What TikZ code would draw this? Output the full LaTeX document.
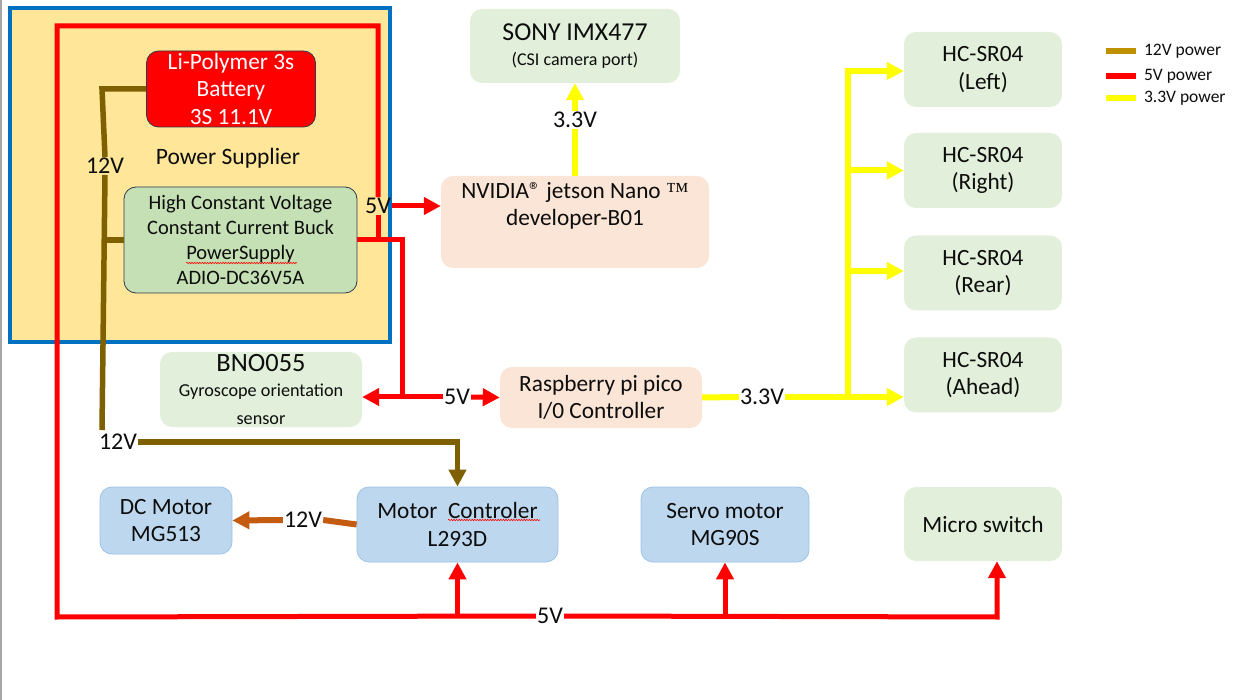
\documentclass[tikz,border=0pt]{standalone}
\usepackage{fontspec}
\setmainfont{Carlito}
\newfontfamily\tmfont{Liberation Serif}
\usetikzlibrary{arrows.meta,decorations.pathmorphing}
\definecolor{pwrfill}{HTML}{FFE699}
\definecolor{pwrline}{HTML}{0070C0}
\definecolor{v5red}{HTML}{FF0000}
\definecolor{v12brown}{HTML}{7F6000}
\definecolor{v12legend}{HTML}{BF9000}
\definecolor{v12orange}{HTML}{C55A11}
\definecolor{v33yellow}{HTML}{FFFF00}
\definecolor{greenbox}{HTML}{E2EFDA}
\definecolor{peachbox}{HTML}{FBE5D6}
\definecolor{bluebox}{HTML}{BDD7EE}
\definecolor{bluedraw}{HTML}{9DC3E6}
\definecolor{buckfill}{HTML}{C5E0B4}
\definecolor{darkdraw}{HTML}{2F3B4C}
\definecolor{txt}{HTML}{0D0D0D}
\tikzset{
  tip/.style={-{Triangle[width=17pt,length=17pt]}},
  wire5/.style={v5red, line width=5pt},
  wire12/.style={v12brown, line width=5.5pt},
  wire12m/.style={v12orange, line width=6pt},
  wire33/.style={v33yellow, line width=6pt},
  volt/.style={inner sep=1pt, font=\fontsize{24}{24}\selectfont, text=txt},
  legendtext/.style={right, inner sep=5pt, font=\fontsize{17.5}{18}\selectfont, text=txt}
}
\begin{document}
\begin{tikzpicture}[x=1pt,y=-1pt,
  box/.style={rounded corners=12pt, inner sep=0pt, align=center, text=txt, font=\fontsize{23.3}{27.5}\selectfont},
  greenblk/.style={box, fill=greenbox},
  peachblk/.style={box, fill=peachbox},
  blueblk/.style={box, fill=bluebox, draw=bluedraw, line width=0.8pt},
  sensor/.style={greenblk, minimum width=158pt, minimum height=75pt}]
\useasboundingbox (0,0) rectangle (1253,700);
\draw [gray!70, line width=2pt] (1,0) -- (1,700);
\draw [pwrline, fill=pwrfill, line width=4.5pt] (10,8) rectangle (390,342);
\node [box, fill=v5red, draw=darkdraw, line width=0.8pt, text=white, minimum width=169pt, minimum height=76pt] (batt) at (231,89) {Li-Polymer 3s\\Battery\\3S 11.1V};
\node [font=\fontsize{23.5}{24}\selectfont, text=txt] (pwrname) at (228,158) {Power Supplier};
\node [box, fill=buckfill, draw=darkdraw, line width=0.8pt, minimum width=233pt, minimum height=106pt, font=\fontsize{20.5}{24.7}\selectfont] (buck) at (240.5,240) {High Constant Voltage\\Constant Current Buck\\PowerSupply\\ADIO-DC36V5A};
\draw [v5red, line width=0.6pt, decorate, decoration={snake, amplitude=0.7pt, segment length=2.6pt}] (186,263) -- (297,263);
\node [greenblk, minimum width=210pt, minimum height=74pt] (sony) at (575,46) {\fontsize{25.8}{28}\selectfont SONY IMX477\\[-3pt]\fontsize{18}{20}\selectfont (CSI camera port)};
\node [peachblk, minimum width=268pt, minimum height=92pt] (jetson) at (575,222) {NVIDIA® jetson Nano {\tmfont\fontsize{23}{23}\selectfont ™}\\developer-B01\\\strut};
\node [greenblk, minimum width=202pt, minimum height=75pt] (bno) at (261,389.5) {\fontsize{26.4}{27}\selectfont BNO055\\[-2pt]\fontsize{18.2}{23}\selectfont Gyroscope orientation\\\fontsize{18.2}{23}\selectfont sensor};
\node [peachblk, minimum width=202pt, minimum height=61pt] (pico) at (601,397.5) {Raspberry pi pico\\I/0 Controller};
\node [blueblk, minimum width=132pt, minimum height=67pt] (dcmotor) at (166,520.5) {DC Motor\\MG513};
\node [blueblk, minimum width=201pt, minimum height=75pt] (mctl) at (457.5,524.5) {Motor\ \ Controler\\L293D};
\draw [v5red, line width=0.6pt, decorate, decoration={snake, amplitude=0.7pt, segment length=2.6pt}] (448,520) -- (540,520);
\node [blueblk, minimum width=168pt, minimum height=75pt] (servo) at (725,524.5) {Servo motor\\MG90S};
\node [greenblk, minimum width=158pt, minimum height=74pt] (micro) at (983,524) {Micro switch};
\node [sensor] (hcleft) at (983,69.5) {HC-SR04\\(Left)};
\node [sensor] (hcright) at (983,170.5) {HC-SR04\\(Right)};
\node [sensor] (hcrear) at (983,273) {HC-SR04\\(Rear)};
\node [sensor] (hcahead) at (983,375) {HC-SR04\\(Ahead)};
\node [volt] (lbl5jet) at (378,206) {5V};
\node [volt] (lbl5pico) at (457,397) {5V};
\node [volt] (lbl5bus) at (550,616) {5V};
\node [volt] (lbl12ps) at (105,166) {12V};
\node [volt] (lbl12mc) at (118,442) {12V};
\node [volt] (lbl12dc) at (303,520) {12V};
\node [volt] (lbl33cam) at (575,120) {3.3V};
\node [volt] (lbl33pico) at (762,397) {3.3V};
\coordinate (r5top) at (378,26);
\coordinate (r5left) at (57,26);
\coordinate (r5bot) at (57,617);
\coordinate (r5mc) at (457.5,617);
\coordinate (r5servo) at (725,617);
\coordinate (r5micro) at (997,617);
\coordinate (r5buck) at (378,240);
\coordinate (r5down) at (402,240);
\coordinate (r5pico) at (402,397);
\coordinate (b12top) at (102,89);
\coordinate (b12buck) at (102,240);
\coordinate (b12bot) at (102,430);
\coordinate (b12mc) at (457.5,442);
\coordinate (ybus) at (848,397);
\draw [wire12] (batt.west) -- (b12top) -- (lbl12ps.north);
\draw [wire12] (lbl12ps.south) -- (b12bot);
\draw [wire12] (b12buck) -- (buck.west);
\draw [wire12, tip] (lbl12mc.east) -- (b12mc) -- (mctl.north);
\draw [wire12m] (mctl.west) -- (lbl12dc.east);
\draw [wire12m, tip] (lbl12dc.west) -- (dcmotor.east);
\draw [wire5] (lbl5jet.north) -- (r5top) -- (r5left) -- (r5bot) -- (lbl5bus.west);
\draw [wire5, tip] (lbl5bus.east) -- (r5micro) -- (r5micro |- micro.south);
\draw [wire5, tip] (r5mc) -- (mctl.south);
\draw [wire5, tip] (r5servo) -- (servo.south);
\draw [wire5] (lbl5jet.south) -- (r5buck);
\draw [wire5] (buck.east) -- (r5down) -- (r5pico);
\draw [wire5, tip] (lbl5jet.east) -- (lbl5jet.east -| jetson.west);
\draw [wire5, tip] (r5pico) -- (r5pico -| bno.east);
\draw [wire5] (r5pico) -- (lbl5pico.west);
\draw [wire5, tip] (lbl5pico.east) -- (pico.west);
\draw [wire33] (jetson.north) -- (lbl33cam.south);
\draw [wire33, tip] (lbl33cam.north) -- (sony.south);
\draw [wire33] (pico.east) -- (lbl33pico.west);
\draw [wire33, tip] (lbl33pico.east) -- (lbl33pico.east -| hcahead.west);
\draw [wire33, tip] (ybus) |- ([yshift=-1.5pt]hcleft.west);
\draw [wire33, tip] (ybus) |- (hcright.west);
\draw [wire33, tip] (ybus) |- ([yshift=2pt]hcrear.west);
\coordinate (leg12) at (1106,51);
\coordinate (leg5) at (1106,76);
\coordinate (leg33) at (1106,98);
\draw [v12legend, line width=6pt] (leg12) -- ++(30,0) node [legendtext] (leg12txt) {12V power};
\draw [v5red, line width=6pt] (leg5) -- ++(30,0) node [legendtext] (leg5txt) {5V power};
\draw [v33yellow, line width=6pt] (leg33) -- ++(30,0) node [legendtext] (leg33txt) {3.3V power};
\end{tikzpicture}
\end{document}
